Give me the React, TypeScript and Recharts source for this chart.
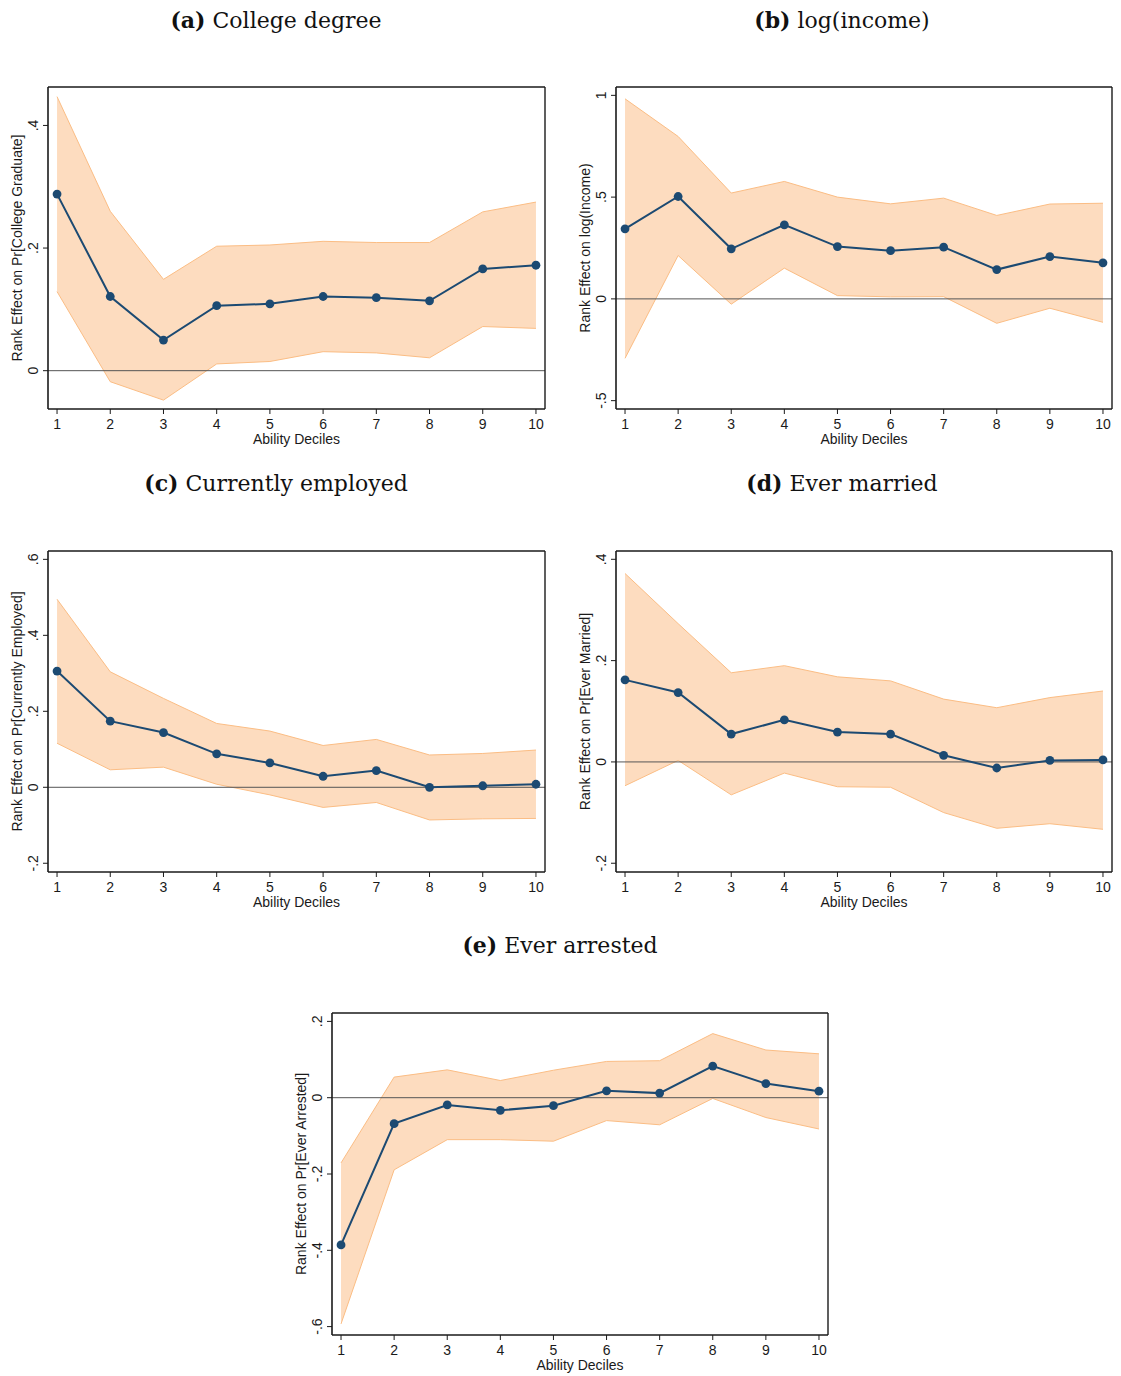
import React from "react";
import {
  ComposedChart,
  Area,
  Line,
  XAxis,
  YAxis,
  ReferenceLine,
  Label,
} from "recharts";

const deciles = [1, 2, 3, 4, 5, 6, 7, 8, 9, 10];

// (a) College degree
const collegeEst = [0.288, 0.121, 0.05, 0.106, 0.109, 0.121, 0.119, 0.114, 0.166, 0.172];
const collegeLo = [0.129, -0.018, -0.048, 0.011, 0.015, 0.031, 0.029, 0.021, 0.072, 0.069];
const collegeHi = [0.447, 0.26, 0.149, 0.203, 0.205, 0.211, 0.209, 0.209, 0.259, 0.275];

// (b) log(income)
const incomeEst = [0.344, 0.503, 0.246, 0.364, 0.257, 0.237, 0.254, 0.144, 0.208, 0.177];
const incomeLo = [-0.292, 0.213, -0.026, 0.151, 0.016, 0.01, 0.011, -0.12, -0.046, -0.115];
const incomeHi = [0.983, 0.798, 0.52, 0.577, 0.5, 0.467, 0.495, 0.41, 0.466, 0.47];

// (c) Currently employed
const employedEst = [0.306, 0.174, 0.144, 0.088, 0.064, 0.029, 0.044, 0.0, 0.004, 0.008];
const employedLo = [0.116, 0.046, 0.053, 0.008, -0.02, -0.053, -0.04, -0.086, -0.083, -0.082];
const employedHi = [0.495, 0.304, 0.234, 0.168, 0.148, 0.11, 0.126, 0.085, 0.089, 0.098];

// (d) Ever married
const marriedEst = [0.162, 0.137, 0.055, 0.083, 0.059, 0.055, 0.013, -0.012, 0.003, 0.004];
const marriedLo = [-0.047, 0.003, -0.065, -0.022, -0.049, -0.05, -0.1, -0.131, -0.122, -0.133];
const marriedHi = [0.372, 0.273, 0.176, 0.19, 0.168, 0.16, 0.124, 0.107, 0.127, 0.14];

// (e) Ever arrested
const arrestedEst = [-0.386, -0.068, -0.019, -0.033, -0.021, 0.018, 0.012, 0.083, 0.037, 0.017];
const arrestedLo = [-0.593, -0.189, -0.11, -0.11, -0.114, -0.06, -0.071, -0.002, -0.052, -0.082];
const arrestedHi = [-0.171, 0.054, 0.073, 0.045, 0.072, 0.095, 0.097, 0.168, 0.125, 0.115];

const LINE = "#1c4a72";
const BAND_FILL = "#fddcbf";
const BAND_EDGE = "#fbbd84";
const AXIS = "#1a1a1a";
const SANS = "'Liberation Sans', Arial, sans-serif";
const SERIF = "'DejaVu Serif', 'Liberation Serif', serif";

const X_DOMAIN: [number, number] = [0.83, 10.17];
const Y_AXIS_W = 50;
const TOP_M = 10;
const RIGHT_M = 10;
const X_AXIS_H = 45;

// Stata-style tick labels: ".2", "-.5", "0", "1"
const stataFmt = (v: number) => {
  if (v === 0) return "0";
  const s = String(Math.round(v * 10) / 10);
  return s.replace(/^0\./, ".").replace(/^-0\./, "-.");
};

interface PanelProps {
  est: number[];
  lo: number[];
  hi: number[];
  yDomain: [number, number];
  yTicks: number[];
  yLabel: string;
  boxLeft: number;
  boxTop: number;
  boxW: number;
  boxH: number;
}

function Panel({ est, lo, hi, yDomain, yTicks, yLabel, boxLeft, boxTop, boxW, boxH }: PanelProps) {
  const data = deciles.map((d, i) => ({ x: d, est: est[i], band: [lo[i], hi[i]] }));
  const width = Y_AXIS_W + boxW + RIGHT_M;
  const height = TOP_M + boxH + X_AXIS_H;

  const YTick = (props: any) => {
    const { x, y, payload } = props;
    const bx = x - 2;
    return (
      <text
        x={bx}
        y={y}
        transform={`rotate(-90, ${bx}, ${y})`}
        textAnchor="middle"
        fontSize={14}
        fontFamily={SANS}
        fill={AXIS}
      >
        {stataFmt(payload.value)}
      </text>
    );
  };

  return (
    <div style={{ position: "absolute", left: boxLeft - Y_AXIS_W, top: boxTop - TOP_M }}>
      <ComposedChart
        width={width}
        height={height}
        data={data}
        margin={{ top: TOP_M, right: RIGHT_M, bottom: 0, left: 0 }}
      >
        <XAxis
          dataKey="x"
          type="number"
          domain={X_DOMAIN}
          ticks={deciles}
          allowDataOverflow
          height={X_AXIS_H}
          tickSize={5}
          tickMargin={5}
          axisLine={{ stroke: AXIS, strokeWidth: 1.6 }}
          tickLine={{ stroke: AXIS }}
          tick={{ fontSize: 14, fontFamily: SANS, fill: AXIS }}
        >
          <Label
            content={() => (
              <text
                x={Y_AXIS_W + boxW / 2}
                y={TOP_M + boxH + 35}
                textAnchor="middle"
                fontSize={14}
                fontFamily={SANS}
                fill={AXIS}
              >
                Ability Deciles
              </text>
            )}
          />
        </XAxis>
        <YAxis
          type="number"
          domain={yDomain}
          ticks={yTicks}
          allowDataOverflow
          width={Y_AXIS_W}
          tickSize={5}
          tickMargin={3}
          axisLine={{ stroke: AXIS, strokeWidth: 1.6 }}
          tickLine={{ stroke: AXIS }}
          tick={YTick}
        >
          <Label
            content={() => {
              const lx = Y_AXIS_W - 26;
              const ly = TOP_M + boxH / 2;
              return (
                <text
                  x={lx}
                  y={ly}
                  transform={`rotate(-90, ${lx}, ${ly})`}
                  textAnchor="middle"
                  fontSize={14}
                  fontFamily={SANS}
                  fill={AXIS}
                >
                  {yLabel}
                </text>
              );
            }}
          />
        </YAxis>
        <Area
          dataKey="band"
          type="linear"
          fill={BAND_FILL}
          fillOpacity={1}
          stroke={BAND_EDGE}
          strokeWidth={1}
          isAnimationActive={false}
          dot={false}
          activeDot={false}
        />
        <ReferenceLine y={0} stroke="#555" strokeWidth={1} />
        <ReferenceLine y={yDomain[1]} stroke={AXIS} strokeWidth={1.4} />
        <ReferenceLine x={X_DOMAIN[1]} stroke={AXIS} strokeWidth={1.4} />
        <Line
          dataKey="est"
          type="linear"
          stroke={LINE}
          strokeWidth={2}
          dot={{ r: 4.4, fill: LINE, stroke: LINE, strokeWidth: 0 }}
          activeDot={false}
          isAnimationActive={false}
        />
      </ComposedChart>
    </div>
  );
}

function Title({ tag, text, cx, cy }: { tag: string; text: string; cx: number; cy: number }) {
  return (
    <div
      style={{
        position: "absolute",
        left: cx,
        top: cy - 15,
        transform: "translateX(-50%)",
        whiteSpace: "nowrap",
        fontFamily: SERIF,
        fontSize: 22,
        lineHeight: "30px",
        color: "#111",
      }}
    >
      <b>{tag}</b> {text}
    </div>
  );
}

export default function App() {
  return (
    <div
      style={{
        position: "absolute",
        left: 0,
        top: 0,
        width: 1121,
        height: 1376,
        background: "#fff",
      }}
    >
      <Title tag="(a)" text="College degree" cx={276} cy={20} />
      <Title tag="(b)" text="log(income)" cx={842} cy={20} />
      <Title tag="(c)" text="Currently employed" cx={276} cy={483} />
      <Title tag="(d)" text="Ever married" cx={842} cy={483} />
      <Title tag="(e)" text="Ever arrested" cx={560} cy={945} />

      <Panel
        est={collegeEst}
        lo={collegeLo}
        hi={collegeHi}
        yDomain={[-0.0625, 0.4627]}
        yTicks={[0, 0.2, 0.4]}
        yLabel="Rank Effect on Pr[College Graduate]"
        boxLeft={48}
        boxTop={87}
        boxW={497}
        boxH={322}
      />
      <Panel
        est={incomeEst}
        lo={incomeLo}
        hi={incomeHi}
        yDomain={[-0.541, 1.041]}
        yTicks={[-0.5, 0, 0.5, 1]}
        yLabel="Rank Effect on log(Income)"
        boxLeft={616}
        boxTop={87}
        boxW={496}
        boxH={322}
      />
      <Panel
        est={employedEst}
        lo={employedLo}
        hi={employedHi}
        yDomain={[-0.223, 0.622]}
        yTicks={[-0.2, 0, 0.2, 0.4, 0.6]}
        yLabel="Rank Effect on Pr[Currently Employed]"
        boxLeft={48}
        boxTop={551}
        boxW={497}
        boxH={321}
      />
      <Panel
        est={marriedEst}
        lo={marriedLo}
        hi={marriedHi}
        yDomain={[-0.2173, 0.4164]}
        yTicks={[-0.2, 0, 0.2, 0.4]}
        yLabel="Rank Effect on Pr[Ever Married]"
        boxLeft={616}
        boxTop={551}
        boxW={496}
        boxH={321}
      />
      <Panel
        est={arrestedEst}
        lo={arrestedLo}
        hi={arrestedHi}
        yDomain={[-0.622, 0.222]}
        yTicks={[-0.6, -0.4, -0.2, 0, 0.2]}
        yLabel="Rank Effect on Pr[Ever Arrested]"
        boxLeft={332}
        boxTop={1013}
        boxW={496}
        boxH={322}
      />
    </div>
  );
}
